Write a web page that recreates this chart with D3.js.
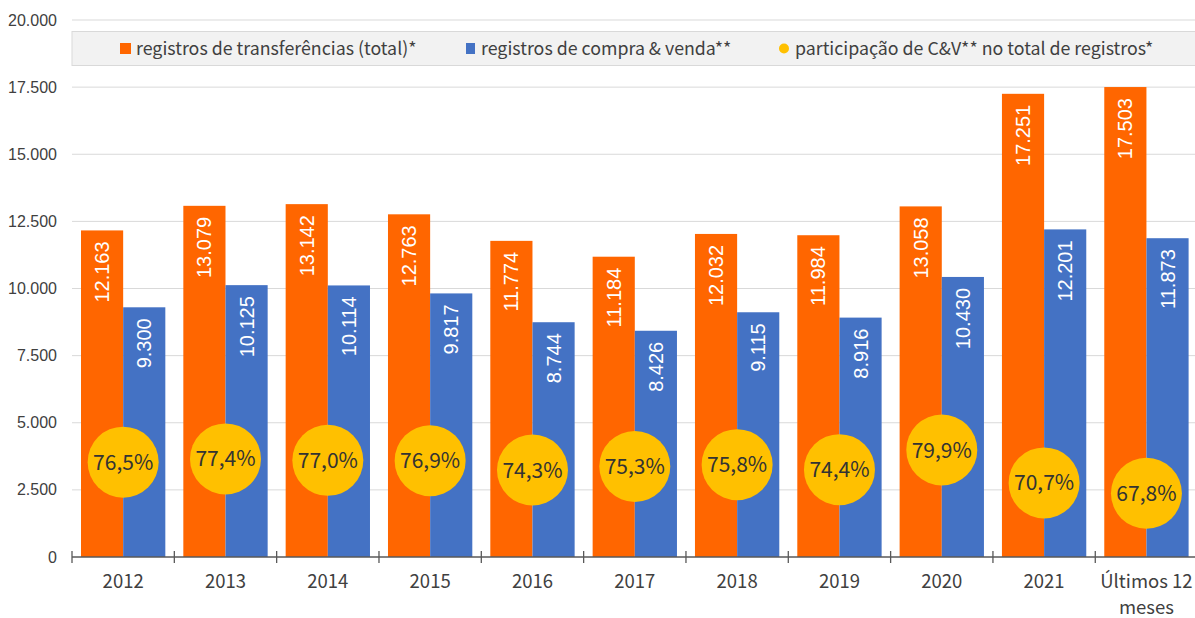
<!DOCTYPE html>
<html><head><meta charset="utf-8">
<script src="https://cdn.jsdelivr.net/npm/d3@7"></script>
<style>body{margin:0;background:#fff}svg{display:block}</style>
</head><body><svg id="c" width="1195" height="618"></svg>
<script>
const categories = ["2012","2013","2014","2015","2016","2017","2018","2019","2020","2021","Últimos 12 meses"];
const totalRegistros = [12163,13079,13142,12763,11774,11184,12032,11984,13058,17251,17503];
const compraVenda = [9300,10125,10114,9817,8744,8426,9115,8916,10430,12201,11873];
const participacao = [76.5,77.4,77.0,76.9,74.3,75.3,75.8,74.4,79.9,70.7,67.8];
const yTicks = [0,2500,5000,7500,10000,12500,15000,17500,20000];
const seriesNames = ["registros de transferências (total)*","registros de compra & venda**","participação de C&V** no total de registros*"];

const colors = {total:"#FF6600", cv:"#4472C4", pct:"#FFC000"};
const loc = d3.formatLocale({decimal:",", thousands:".", grouping:[3], currency:["R$",""]});
const fmtN = loc.format(",.0f");
const fmtP = v => loc.format(".1f")(v) + "%";

const svg = d3.select("#c");
const plotTop = 20, plotBottom = 557, plotLeft = 72, plotRight = 1197.6;
const y = d3.scaleLinear().domain([0,20000]).range([plotBottom, plotTop]);
const y2 = d3.scaleLinear().domain([50,200]).range([plotBottom, plotTop]);
const x = d3.scaleBand().domain(categories).range([plotLeft, plotRight]).paddingInner(0).paddingOuter(0);
const xs = d3.scaleBand().domain(["total","cv"]).range([0, x.bandwidth()]).paddingInner(0).paddingOuter(0.2135);

const axisFont = "'Liberation Sans', Arial, sans-serif";
const jpFont = "'Noto Sans CJK JP', 'Noto Sans', sans-serif";

// gridlines
svg.append("g").selectAll("line").data(yTicks.filter(d=>d>0)).join("line")
  .attr("x1", plotLeft).attr("x2", 1195).attr("y1", d=>y(d)).attr("y2", d=>y(d))
  .attr("stroke", "#d9d9d9").attr("stroke-width", 1);

// y labels
svg.append("g").selectAll("text").data(yTicks).join("text")
  .attr("x", 57).attr("y", d=>y(d)).attr("dy","0.35em").attr("text-anchor","end")
  .attr("font-family", axisFont).attr("font-size", 16).attr("fill", "#404040")
  .text(d=>fmtN(d));

// bars
const rows = categories.map((c,i)=>({c, total: totalRegistros[i], cv: compraVenda[i], pct: participacao[i]}));
const g = svg.append("g");
rows.forEach(r=>{
  ["total","cv"].forEach(k=>{
    const bx = x(r.c) + xs(k), bw = xs.bandwidth();
    g.append("rect").attr("x", bx).attr("y", y(r[k])).attr("width", bw).attr("height", y(0)-y(r[k]))
      .attr("fill", colors[k]);
    const cx = bx + bw/2, ty = y(r[k]) + 11;
    g.append("text").attr("transform", `translate(${cx},${ty}) rotate(-90)`)
      .attr("text-anchor","end").attr("dy","0.35em")
      .attr("font-family", axisFont).attr("font-size", 20).attr("fill", "#fff")
      .text(fmtN(r[k]));
  });
});

// bubbles
rows.forEach(r=>{
  const cx = x(r.c) + x.bandwidth()/2, cy = y2(r.pct);
  g.append("circle").attr("cx", cx).attr("cy", cy).attr("r", 35.5).attr("fill", colors.pct);
  g.append("text").attr("x", cx).attr("y", cy).attr("dy","0.36em").attr("text-anchor","middle")
    .attr("font-family", jpFont).attr("font-size", 21).attr("fill", "#333")
    .text(fmtP(r.pct));
});

// x axis
svg.append("line").attr("x1", plotLeft).attr("x2", 1195).attr("y1", plotBottom).attr("y2", plotBottom)
  .attr("stroke", "#595959").attr("stroke-width", 1.3);
svg.append("g").selectAll("line").data(categories).join("line")
  .attr("x1", d=>x(d)).attr("x2", d=>x(d)).attr("y1", plotBottom-6).attr("y2", plotBottom+6)
  .attr("stroke", "#595959").attr("stroke-width", 1.3);
const xl = svg.append("g").selectAll("text").data(categories).join("text")
  .attr("x", d=>x(d)+x.bandwidth()/2).attr("y", 588).attr("text-anchor","middle")
  .attr("font-family", jpFont).attr("font-size", 18.5).attr("fill", "#404040");
xl.each(function(d){
  const t = d3.select(this);
  if (d.length > 6) {
    t.append("tspan").attr("x", x(d)+x.bandwidth()/2).attr("dy", 0).text("Últimos 12");
    t.append("tspan").attr("x", x(d)+x.bandwidth()/2).attr("dy", 26).text("meses");
  } else t.text(d);
});

// legend
const lg = svg.append("g");
lg.append("rect").attr("x", plotLeft).attr("y", 31.5).attr("width", 1195-plotLeft+2).attr("height", 34)
  .attr("fill", "#f2f2f2").attr("stroke", "#d9d9d9");
lg.append("rect").attr("x", 120).attr("y", 43).attr("width", 11).attr("height", 11).attr("fill", colors.total);
lg.append("rect").attr("x", 466).attr("y", 43).attr("width", 9).attr("height", 11).attr("fill", colors.cv);
lg.append("circle").attr("cx", 784).attr("cy", 48.5).attr("r", 5).attr("fill", colors.pct);
const lx = [136, 481, 795];
lg.selectAll("text").data(seriesNames).join("text")
  .attr("x", (d,i)=>lx[i]).attr("y", 49).attr("dy","0.36em")
  .attr("font-family", jpFont).attr("font-size", 17.8).attr("fill", "#404040")
  .text(d=>d);
</script></body></html>
